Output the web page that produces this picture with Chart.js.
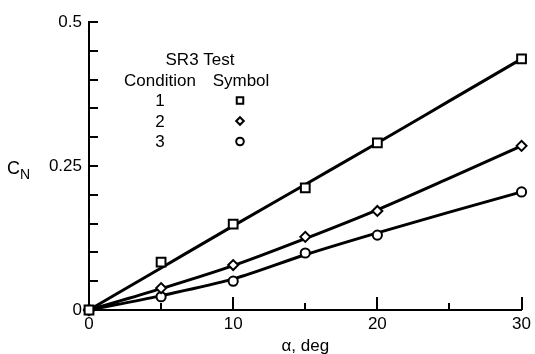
<!DOCTYPE html>
<html>
<head>
<meta charset="utf-8">
<script src="https://cdn.jsdelivr.net/npm/chart.js@4.4.1/dist/chart.umd.min.js"></script>
<style>
html, body { margin: 0; padding: 0; background: #fff; }
</style>
</head>
<body>
<canvas id="cnChart" width="535" height="354"></canvas>
<script>
// measured points
const alpha = [0, 5, 10, 15, 20, 30];
const cond1 = [0, 0.083, 0.149, 0.212, 0.290, 0.436];
const cond2 = [0, 0.038, 0.078, 0.127, 0.172, 0.285];
const cond3 = [0, 0.023, 0.050, 0.099, 0.130, 0.205];

// faired curves through the data
const fitAlpha = [0, 5, 10, 15, 20, 25, 30];
const fit1 = [0, 0.073, 0.146, 0.218, 0.290, 0.363, 0.436];
const fit2 = [0, 0.037, 0.077, 0.124, 0.174, 0.229, 0.285];
const fit3 = [0, 0.025, 0.054, 0.096, 0.134, 0.170, 0.205];

// axis ticks
const xTickLabels = [0, 10, 20, 30];
const xMinorTicks = [5, 15, 25];
const yTickLabels = [0, 0.25, 0.5];
const yMinorTicks = [0.05, 0.1, 0.15, 0.2, 0.25, 0.3, 0.35, 0.4, 0.45, 0.5];

// legend table
const legendTitle = 'SR3 Test';
const legendHeads = ['Condition', 'Symbol'];
const conditions = ['1', '2', '3'];
const symbols = ['rect', 'rectRot', 'circle'];

const FAMILY = '"Liberation Sans", Arial, sans-serif';
const FONT = '17px ' + FAMILY;

function pts(xs, ys) {
    return xs.map((x, i) => ({ x: x, y: ys[i] }));
}

function fitLine(ys) {
    return {
        type: 'line',
        data: pts(fitAlpha, ys),
        borderColor: '#000',
        borderWidth: 3,
        pointRadius: 0,
        cubicInterpolationMode: 'monotone',
        fill: false,
        order: 2
    };
}

function marks(ys, style, r) {
    return {
        type: 'line',
        data: pts(alpha, ys),
        showLine: false,
        pointStyle: style,
        pointRadius: r,
        pointBorderWidth: 2,
        pointBorderColor: '#000',
        pointBackgroundColor: '#fff',
        order: 1
    };
}

// inward tick marks, legend table and C_N label
const extras = {
    id: 'extras',
    afterDraw(chart) {
        const ctx = chart.ctx;
        const xs = chart.scales.x;
        const ys = chart.scales.y;
        const a = chart.chartArea;
        ctx.save();
        ctx.strokeStyle = '#000';
        ctx.lineWidth = 2;
        ctx.beginPath();
        yMinorTicks.forEach(v => {
            const py = Math.round(ys.getPixelForValue(v));
            ctx.moveTo(a.left, py);
            ctx.lineTo(a.left + 9, py);
        });
        xMinorTicks.forEach(v => {
            const px = Math.round(xs.getPixelForValue(v));
            ctx.moveTo(px, a.bottom);
            ctx.lineTo(px, a.bottom - 7);
        });
        xTickLabels.slice(1).forEach(v => {
            const px = Math.round(xs.getPixelForValue(v));
            ctx.moveTo(px, a.bottom);
            ctx.lineTo(px, a.bottom - 13);
        });
        ctx.stroke();

        // legend
        ctx.fillStyle = '#000';
        ctx.font = FONT;
        ctx.textAlign = 'center';
        ctx.textBaseline = 'alphabetic';
        ctx.fillText(legendTitle, 200, 65);
        ctx.fillText(legendHeads[0], 160, 86);
        ctx.fillText(legendHeads[1], 241, 86);
        conditions.forEach((c, i) => {
            const by = 106 + i * 20.5;
            ctx.fillStyle = '#000';
            ctx.fillText(c, 160, by);
            ctx.fillStyle = '#fff';
            ctx.strokeStyle = '#000';
            Chart.helpers.drawPoint(ctx, {
                pointStyle: symbols[i],
                radius: symbols[i] === 'rect' ? 4.6 : 3.8,
                rotation: 0,
                borderWidth: 1.8
            }, 240, by - 5.5);
        });

        // C_N
        ctx.fillStyle = '#000';
        ctx.textAlign = 'left';
        ctx.font = '18px ' + FAMILY;
        ctx.fillText('C', 7, 174);
        ctx.font = '14px ' + FAMILY;
        ctx.fillText('N', 20, 179);
        ctx.restore();
    }
};

new Chart(document.getElementById('cnChart'), {
    data: {
        datasets: [
            fitLine(fit1), fitLine(fit2), fitLine(fit3),
            marks(cond1, 'rect', 6.2),
            marks(cond2, 'rectRot', 5),
            marks(cond3, 'circle', 4.6)
        ]
    },
    options: {
        responsive: false,
        animation: false,
        clip: false,
        layout: { padding: { left: 0, right: 10, top: 22, bottom: 0 } },
        plugins: {
            legend: { display: false },
            tooltip: { enabled: false }
        },
        scales: {
            x: {
                type: 'linear',
                min: 0,
                max: 30,
                afterFit: s => { s.height = 44; },
                afterBuildTicks: s => { s.ticks = xTickLabels.map(v => ({ value: v })); },
                grid: { display: true, drawOnChartArea: false, drawTicks: false },
                border: { display: true, color: '#000', width: 2 },
                ticks: { color: '#000', font: { family: FAMILY, size: 17 }, padding: 4, maxRotation: 0, callback: v => String(v) },
                title: {
                    display: true,
                    text: 'α, deg',
                    color: '#000',
                    font: { family: FAMILY, size: 17 },
                    padding: { top: 0, bottom: -3 }
                }
            },
            y: {
                type: 'linear',
                min: 0,
                max: 0.5,
                afterFit: s => { s.width = 89; },
                afterBuildTicks: s => { s.ticks = yTickLabels.map(v => ({ value: v })); },
                grid: { display: true, drawOnChartArea: false, drawTicks: false },
                border: { display: true, color: '#000', width: 2 },
                ticks: { color: '#000', font: { family: FAMILY, size: 17 }, padding: 7, callback: v => String(v) }
            }
        }
    },
    plugins: [extras]
});
</script>
</body>
</html>
